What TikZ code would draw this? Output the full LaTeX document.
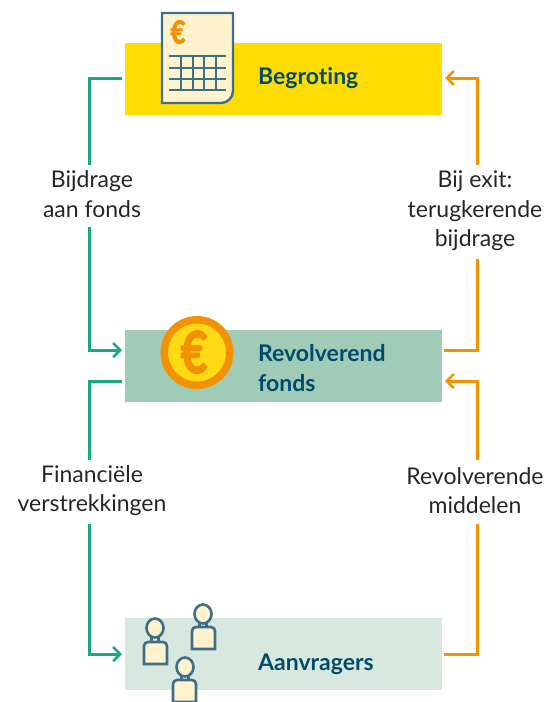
\documentclass[tikz,border=0pt]{standalone}
\usepackage{fontspec}
\setmainfont[Ligatures=NoCommon]{Lato}
\newfontfamily\eurofont[FakeBold=2.5]{Lato Bold}
\definecolor{cyellow}{HTML}{FFDD00}
\definecolor{cteal}{HTML}{9FCBB7}
\definecolor{cpale}{HTML}{D8E8DF}
\definecolor{cgreen}{HTML}{17A985}
\definecolor{corange}{HTML}{F39200}
\definecolor{cnavy}{HTML}{004B6B}
\definecolor{cline}{HTML}{3E6F8A}
\definecolor{ccream}{HTML}{FFF2CC}
\definecolor{ccoin}{HTML}{FFD914}
\usetikzlibrary{arrows.meta,shapes.geometric}
\tikzset{
  panel/.style={minimum width=317pt,minimum height=72pt,inner sep=0pt,outer sep=0pt,anchor=north west},
  paneltext/.style={anchor=west,inner sep=0pt,text=cnavy,font=\fontsize{23}{29.5}\selectfont\bfseries,align=left},
  lbl/.style={inner sep=0pt,align=center,text=black!85,font=\fontsize{23}{29.5}\selectfont},
  link/.style={line width=3pt,line join=miter},
  tip/.style={-{Straight Barb[length=7pt,width=14pt,line width=2.6pt]}},
  iconline/.style={draw=cline,line width=2.4pt},
  personline/.style={fill=ccream,draw=cline,line width=2.6pt},
}
\newcommand{\person}[5]{% head x, head y, body left, body top, name
  \path[personline] (#1-3.5,#2+6) rectangle (#1+3.5,#2+16);
  \path[personline] (#3,#4+22) [rounded corners=4pt] -- (#3,#4) -- (#3+23,#4) [sharp corners] -- (#3+23,#4+22) -- cycle;
  \node[ellipse,personline,minimum width=17pt,minimum height=19pt,inner sep=0pt] (#5) at (#1,#2) {};
}
\begin{document}
\begin{tikzpicture}[x=1pt,y=-1pt]
\useasboundingbox (0,0) rectangle (546,702);
\clip (0,0) rectangle (546,702);
% panels
\node[panel,fill=cyellow] (begroting) at (125,43) {};
\node[panel,fill=cteal] (fonds) at (125,330) {};
\node[panel,fill=cpale] (aanvragers) at (125,618) {};
\node[paneltext] (t1) at (258,78) {Begroting};
\node[paneltext] (t2) at (258,368) {Revolverend\\fonds};
\node[paneltext] (t3) at (258,664) {Aanvragers};
% connector ends
\coordinate (g1a) at (122,78); \coordinate (g1b) at (89,78); \coordinate (g1s) at (89,165); \coordinate (g1t) at (89,227); \coordinate (g1c) at (89,350); \coordinate (g1d) at (122,350);
\coordinate (o1a) at (444,350); \coordinate (o1b) at (477,350); \coordinate (o1s) at (477,259); \coordinate (o1t) at (477,165); \coordinate (o1c) at (477,78); \coordinate (o1d) at (445,78);
\coordinate (g2a) at (122,381); \coordinate (g2b) at (89,381); \coordinate (g2s) at (89,460); \coordinate (g2t) at (89,524); \coordinate (g2c) at (89,654); \coordinate (g2d) at (122,654);
\coordinate (o2a) at (444,654); \coordinate (o2b) at (477,654); \coordinate (o2s) at (477,524); \coordinate (o2t) at (477,460); \coordinate (o2c) at (477,381); \coordinate (o2d) at (445,381);
\draw[link,cgreen] (g1a) -- (g1b) -- (g1s);
\draw[link,tip,cgreen] (g1t) -- (g1c) -- (g1d);
\draw[link,corange] (o1a) -- (o1b) -- (o1s);
\draw[link,tip,corange] (o1t) -- (o1c) -- (o1d);
\draw[link,cgreen] (g2a) -- (g2b) -- (g2s);
\draw[link,tip,cgreen] (g2t) -- (g2c) -- (g2d);
\draw[link,corange] (o2a) -- (o2b) -- (o2s);
\draw[link,tip,corange] (o2t) -- (o2c) -- (o2d);
% labels
\node[lbl] (l1) at (92,194) {Bijdrage\\aan fonds};
\node[lbl] (l2) at (475,211) {Bij exit:\\terugkerende\\bijdrage};
\node[lbl] (l3) at (92,490.5) {Financiële\\verstrekkingen};
\node[lbl] (l4) at (475,490.5) {Revolverende\\middelen};
% document icon
\path[fill=ccream,iconline] (162,13) -- (233,13) [rounded corners=12pt] -- (233,103) [sharp corners] -- (162,103) -- cycle;
\foreach \yy in {56,67.5,79,90} \draw[cline,line width=2pt] (169,\yy) -- (226,\yy);
\foreach \xx in {181,192.5,204,215.5} \draw[cline,line width=2pt] (\xx,56) -- (\xx,90);
\node[inner sep=0pt,text=corange,xscale=.8,font=\eurofont\fontsize{32}{32}\selectfont] (euro1) at (178,32) {€};
% coin
\node[circle,fill=ccoin,draw=corange,line width=7.5pt,minimum size=65.5pt,inner sep=0pt,outer sep=0pt] (coin) at (197,352.5) {};
\node[inner sep=0pt,text=corange,xscale=.8,font=\eurofont\fontsize{58}{58}\selectfont] (euro2) at (194,352) {€};
% people
\person{155}{628}{144}{642}{p1}
\person{203}{614}{192}{627}{p2}
\person{185}{667}{173}{680}{p3}
\end{tikzpicture}
\end{document}
